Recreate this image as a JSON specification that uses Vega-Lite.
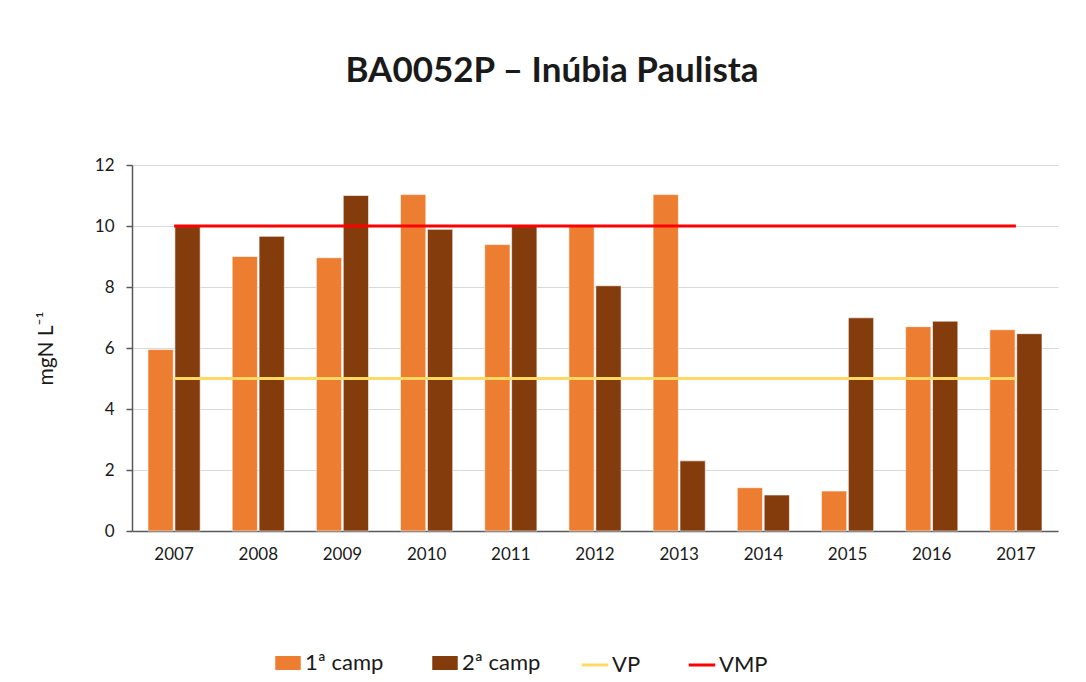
{
  "$schema": "https://vega.github.io/schema/vega-lite/v6.json",
  "width": 926,
  "height": 366,
  "autosize": {"type": "none"},
  "padding": {"left": 132, "top": 165, "right": 28, "bottom": 151},
  "background": "white",
  "title": {
    "text": "BA0052P – Inúbia Paulista",
    "font": "Lato",
    "fontSize": 35,
    "fontWeight": "bold",
    "color": "#1a1a1a",
    "anchor": "middle",
    "dx": -43,
    "offset": 67
  },
  "datasets": {
    "bars": [
      {"ano": "2007", "campanha": "1ª camp", "valor": 5.95},
      {"ano": "2007", "campanha": "2ª camp", "valor": 10.0},
      {"ano": "2008", "campanha": "1ª camp", "valor": 9.0},
      {"ano": "2008", "campanha": "2ª camp", "valor": 9.66},
      {"ano": "2009", "campanha": "1ª camp", "valor": 8.96},
      {"ano": "2009", "campanha": "2ª camp", "valor": 11.0},
      {"ano": "2010", "campanha": "1ª camp", "valor": 11.03},
      {"ano": "2010", "campanha": "2ª camp", "valor": 9.89},
      {"ano": "2011", "campanha": "1ª camp", "valor": 9.39},
      {"ano": "2011", "campanha": "2ª camp", "valor": 9.99},
      {"ano": "2012", "campanha": "1ª camp", "valor": 10.0},
      {"ano": "2012", "campanha": "2ª camp", "valor": 8.04},
      {"ano": "2013", "campanha": "1ª camp", "valor": 11.03},
      {"ano": "2013", "campanha": "2ª camp", "valor": 2.3},
      {"ano": "2014", "campanha": "1ª camp", "valor": 1.42},
      {"ano": "2014", "campanha": "2ª camp", "valor": 1.18},
      {"ano": "2015", "campanha": "1ª camp", "valor": 1.31},
      {"ano": "2015", "campanha": "2ª camp", "valor": 6.99},
      {"ano": "2016", "campanha": "1ª camp", "valor": 6.7},
      {"ano": "2016", "campanha": "2ª camp", "valor": 6.88},
      {"ano": "2017", "campanha": "1ª camp", "valor": 6.6},
      {"ano": "2017", "campanha": "2ª camp", "valor": 6.47}
    ],
    "lines": [
      {"ano": "2007", "ref": "VP", "valor": 5},
      {"ano": "2017", "ref": "VP", "valor": 5},
      {"ano": "2007", "ref": "VMP", "valor": 10},
      {"ano": "2017", "ref": "VMP", "valor": 10}
    ]
  },
  "config": {
    "font": "Lato",
    "view": {"stroke": null},
    "axis": {
      "labelFont": "Lato",
      "titleFont": "Lato",
      "labelColor": "#1a1a1a",
      "titleColor": "#1a1a1a",
      "labelFontSize": 17,
      "titleFontSize": 21,
      "titleFontWeight": "normal"
    },
    "legend": {
      "labelFont": "Lato",
      "labelFontSize": 22,
      "labelColor": "#1a1a1a"
    }
  },
  "layer": [
    {
      "data": {"name": "bars"},
      "mark": {"type": "bar", "stroke": "white", "strokeWidth": 1, "strokeOpacity": 0.6},
      "encoding": {
        "x": {
          "field": "ano",
          "type": "ordinal",
          "scale": {"paddingInner": 0.38, "paddingOuter": 0.19},
          "axis": {
            "title": null,
            "labelAngle": 0,
            "ticks": false,
            "labelPadding": 15,
            "domainColor": "#595959",
            "domainWidth": 1.5,
            "grid": false
          }
        },
        "xOffset": {
          "field": "campanha",
          "type": "nominal",
          "scale": {"paddingInner": 0.06}
        },
        "y": {
          "field": "valor",
          "type": "quantitative",
          "scale": {"domain": [0, 12]},
          "axis": {
            "title": "mgN L⁻¹",
            "titlePadding": 38,
            "values": [0, 2, 4, 6, 8, 10, 12],
            "labelOverlap": false,
            "domainColor": "#595959",
            "domainWidth": 1.5,
            "tickColor": "#595959",
            "tickSize": 6,
            "tickWidth": 1.5,
            "labelPadding": 12,
            "gridColor": "#d9d9d9",
            "gridWidth": 1
          }
        },
        "fill": {
          "field": "campanha",
          "type": "nominal",
          "scale": {"domain": ["1ª camp", "2ª camp"], "range": ["#ed7d31", "#843c0c"]},
          "legend": {
            "title": null,
            "orient": "none",
            "direction": "horizontal",
            "legendX": 143,
            "legendY": 485,
            "symbolType": "M-1,-0.55H1V0.55H-1Z",
            "symbolSize": 650,
            "symbolStrokeWidth": 0,
            "columnPadding": 48,
            "labelOffset": 4
          }
        }
      }
    },
    {
      "data": {"name": "lines"},
      "mark": {"type": "line", "strokeWidth": 3},
      "encoding": {
        "x": {"field": "ano", "type": "ordinal"},
        "y": {"field": "valor", "type": "quantitative"},
        "detail": {"field": "ref"},
        "stroke": {
          "field": "ref",
          "type": "nominal",
          "scale": {"domain": ["VP", "VMP"], "range": ["#ffd966", "#ff0000"]},
          "legend": {
            "title": null,
            "orient": "none",
            "direction": "horizontal",
            "legendX": 448,
            "legendY": 485,
            "symbolType": "stroke",
            "symbolSize": 700,
            "symbolStrokeWidth": 3,
            "columnPadding": 41,
            "labelOffset": 2
          }
        }
      }
    }
  ],
  "resolve": {"scale": {"fill": "independent", "stroke": "independent"}}
}
